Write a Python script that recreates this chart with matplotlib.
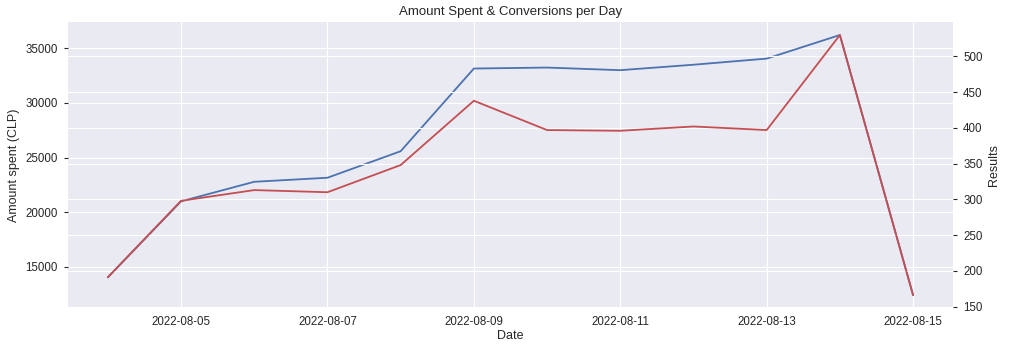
import matplotlib
matplotlib.use("Agg")
import matplotlib.pyplot as plt
import matplotlib.dates as mdates
import numpy as np
import pandas as pd

plt.style.use("seaborn-v0_8")
plt.rcParams.update({
    "xtick.labelsize": 8.3,
    "ytick.labelsize": 8.3,
    "axes.labelsize": 9,
    "grid.linewidth": 0.85,
})

dates = pd.date_range("2022-08-04", "2022-08-15", freq="D")
amount_spent = [14030, 20990, 22780, 23150, 25580, 33150,
                33240, 33000, 33500, 34060, 36220, 12400]
results = [191, 298, 313, 310, 348, 438,
           397, 396, 402, 397, 530, 166]

fig, ax = plt.subplots(figsize=(10.24, 3.55), dpi=100)
fig.subplots_adjust(left=0.066, right=0.931, top=0.938, bottom=0.132)

ax.plot(dates, amount_spent, color="#4C72B0", linewidth=1.3)
ax.set_ylabel("Amount spent (CLP)")
ax.set_xlabel("Date", labelpad=1)
ax.set_title("Amount Spent & Conversions per Day", fontsize=9.5, pad=5)

ax2 = ax.twinx()
ax2.plot(dates, results, color="#C44E52", linewidth=1.3)
ax2.set_ylabel("Results")

ax.xaxis.set_major_locator(mdates.DayLocator(bymonthday=[5, 7, 9, 11, 13, 15]))
ax.xaxis.set_major_formatter(mdates.DateFormatter("%Y-%m-%d"))
ax.tick_params(axis="x", length=0, pad=6)
ax.tick_params(axis="y", length=3, width=0.8, pad=4)
ax2.tick_params(axis="y", length=3, width=0.8, pad=4)

fig.savefig("out.png", dpi=100)
